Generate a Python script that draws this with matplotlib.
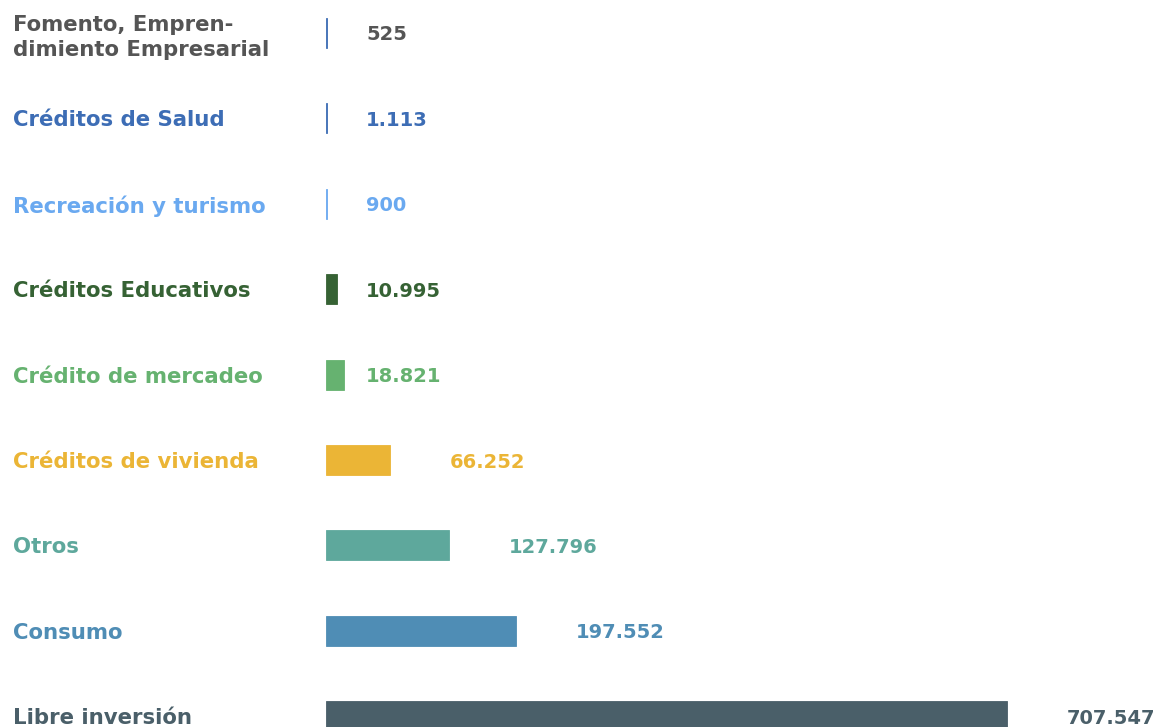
import matplotlib.pyplot as plt
from matplotlib.transforms import blended_transform_factory

# categories, values and colours (top to bottom)
categories = ['Fomento, Empren-\ndimiento Empresarial', 'Créditos de Salud', 'Recreación y turismo',
              'Créditos Educativos', 'Crédito de mercadeo', 'Créditos de vivienda',
              'Otros', 'Consumo', 'Libre inversión']
values = [525, 1113, 900, 10995, 18821, 66252, 127796, 197552, 707547]
bar_colors = ['#3d6db5', '#3d6db5', '#6aa9f0', '#366234', '#66b270', '#ebb536',
              '#5ea89c', '#4f8db5', '#4a5f69']
label_colors = ['#555555', '#3d6db5', '#6aa9f0', '#366234', '#66b270', '#ebb536',
                '#5ea89c', '#4f8db5', '#4a5f69']

plt.rcParams['font.family'] = ['DejaVu Sans']

fig = plt.figure(figsize=(11.6, 7.27), dpi=100)
ax = fig.add_axes([326 / 1160, 0, 834 / 1160, 1])

rows = list(range(len(categories)))
ax.barh(rows, values, height=0.35, color=bar_colors, edgecolor=bar_colors, linewidth=0.6)
ax.set_xlim(0, 867000)
ax.set_ylim(8.126, -0.386)
ax.axis('off')

def fmt(v):
    return f'{v:,}'.replace(',', '.')

label_trans = blended_transform_factory(fig.transFigure, ax.transData)
for i, (cat, v, c) in enumerate(zip(categories, values, label_colors)):
    ax.text(13 / 1160, i, cat, transform=label_trans,
            ha='left', va='center_baseline', fontsize=15.3, fontweight='bold', color=c,
            linespacing=1.3, clip_on=False)
    x = 41600 if v < 50000 else v + 62500
    ax.text(x, i, fmt(v), ha='left', va='center_baseline', fontsize=14, fontweight='bold',
            color=c, clip_on=False)

plt.savefig('out.png', dpi=100)
